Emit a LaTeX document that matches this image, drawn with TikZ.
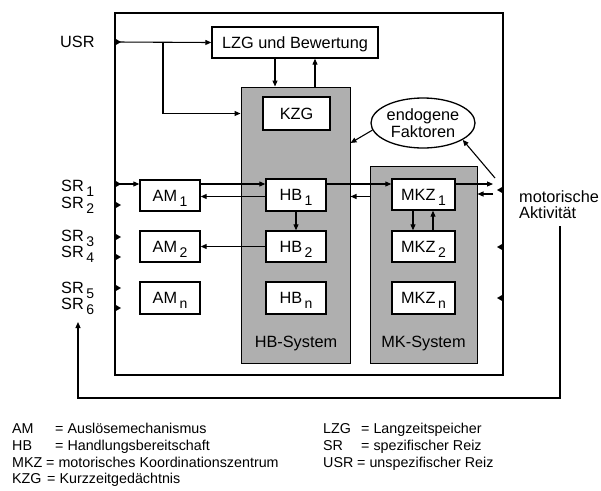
\documentclass[tikz,border=0pt]{standalone}
\usepackage{fontspec}
\setmainfont{Liberation Sans}
\usetikzlibrary{arrows.meta,shapes.geometric}
\newcommand{\sbs}[1]{\hspace{2.5pt}\smash{\raisebox{-5pt}{\fontsize{14}{14}\selectfont #1}}}
\definecolor{sysgray}{RGB}{175,175,175}
\begin{document}
\begin{tikzpicture}[x=1pt,y=-1pt,
  box/.style={draw, fill=white, line width=1.4pt, inner sep=0pt, text height=11.5pt, text depth=0pt, font=\fontsize{16.3}{16.3}\selectfont},
  sys/.style={draw, fill=sysgray, line width=1pt, inner sep=0pt},
  lbl/.style={inner sep=0pt, font=\fontsize{16.3}{16.3}\selectfont, text height=11.5pt, text depth=0pt},
  arr/.style={line width=1.1pt, -{Triangle[length=6pt,width=5pt]}},
  ln/.style={line width=1.1pt},
  leg/.style={inner sep=0pt, anchor=base west, font=\fontsize{14.3}{14.3}\selectfont}]
\useasboundingbox (0,0) rectangle (601,490);
\fill[white] (0,0) rectangle (601,490);
% outer frame
\node[draw, line width=1.4pt, minimum width=388pt, minimum height=362pt, inner sep=0pt] (outer) at (309,194) {};
% system boxes
\node[sys, minimum width=109pt, minimum height=276pt] (HBsys) at (295.5,225) {};
\node[sys, minimum width=107pt, minimum height=197pt] (MKsys) at (423.5,264.5) {};
\node[lbl] (HBlab) at (296,342) {HB-System};
\node[lbl] (MKlab) at (423.5,342) {MK-System};
% boxes
\node[box, minimum width=166pt, minimum height=31pt] (LZG) at (295,42.5) {LZG und Bewertung};
\node[box, minimum width=67pt, minimum height=33pt] (KZG) at (296.5,113.5) {KZG};
\node[box, minimum width=60pt, minimum height=32pt] (HB1) at (296,195) {HB\sbs{1}};
\node[box, minimum width=60pt, minimum height=31pt] (HB2) at (296,246.5) {HB\sbs{2}};
\node[box, minimum width=60pt, minimum height=32pt] (HBn) at (296,298) {HB\sbs{n}};
\node[box, minimum width=60pt, minimum height=31pt] (AM1) at (170,195.5) {AM\sbs{1}};
\node[box, minimum width=60pt, minimum height=31pt] (AM2) at (170,246.5) {AM\sbs{2}};
\node[box, minimum width=60pt, minimum height=32pt] (AMn) at (170,298) {AM\sbs{n}};
\node[box, minimum width=63pt, minimum height=31pt] (MKZ1) at (423.5,194.5) {MKZ\sbs{1}};
\node[box, minimum width=63pt, minimum height=31pt] (MKZ2) at (423.5,246.5) {MKZ\sbs{2}};
\node[box, minimum width=63pt, minimum height=32pt] (MKZn) at (423.5,298) {MKZ\sbs{n}};
\node[draw, fill=white, ellipse, line width=1.3pt, minimum width=104pt, minimum height=50pt, inner sep=0pt, align=center, font=\fontsize{16.3}{17}\selectfont] (endo) at (423,123) {endogene\\Faktoren};
% outside labels
\node[lbl, anchor=west] (USR) at (60,42) {USR};
\node[lbl, anchor=west] (SR1) at (61,186) {SR\sbs{1}};
\node[lbl, anchor=west] (SR2) at (61,203) {SR\sbs{2}};
\node[lbl, anchor=west] (SR3) at (61,236) {SR\sbs{3}};
\node[lbl, anchor=west] (SR4) at (61,252) {SR\sbs{4}};
\node[lbl, anchor=west] (SR5) at (61,288) {SR\sbs{5}};
\node[lbl, anchor=west] (SR6) at (61,304) {SR\sbs{6}};
\node[lbl, anchor=west] (mot1) at (519,197) {motorische};
\node[lbl, anchor=west] (mot2) at (519,213) {Aktivität};
% coordinates
\coordinate (usrL) at (115,42);
\coordinate (br) at (163,42);
\coordinate (xd) at (275,0);
\coordinate (xu) at (315,0);
\coordinate (sr1L) at (115,184);
\coordinate (ya) at (0,184);
\coordinate (yb) at (0,196.5);
\coordinate (yc) at (0,194);
\coordinate (xm) at (493,0);
\coordinate (motL) at (495,178);
\coordinate (fbtop) at (560,226);
\coordinate (fbcorner) at (560,398);
\coordinate (sr6in) at (78,322);
\coordinate (xk1) at (413,0);
\coordinate (xk2) at (433,0);
% connectors
\draw[arr] (usrL) -- (LZG.west);
\draw[arr] (br) |- (HBsys.west |- KZG.center);
\draw[arr] (LZG.south -| xd) -- (HBsys.north -| xd);
\draw[arr] (HBsys.north -| xu) -- (LZG.south -| xu);
\draw[arr] (sr1L) -- (AM1.west |- ya);
\draw[arr] (AM1.east |- ya) -- (HB1.west |- ya);
\draw[arr] (HB1.west |- yb) -- (AM1.east |- yb);
\draw[arr] (HB2.west) -- (AM2.east);
\draw[arr] (HB1.south) -- (HB2.north);
\draw[arr] (HB1.east |- ya) -- (MKZ1.west |- ya);
\draw[arr] (MKsys.west |- yb) -- (HBsys.east |- yb);
\draw[arr] (MKZ1.east |- ya) -- (xm |- ya);
\draw[arr] (xm |- yc) -- (MKsys.east |- yc);
\draw[arr] (MKZ1.south -| xk1) -- (MKZ2.north -| xk1);
\draw[arr] (MKZ2.north -| xk2) -- (MKZ1.south -| xk2);
\draw[arr] (endo.188) -- (HBsys.east |- 0,143);
\draw[arr] (motL) -- (endo.-23);
\draw[arr] (fbtop) -- (fbcorner) -| (sr6in);
% edge ticks
\foreach \y in {42,184,205,237,257,288,308}
  \fill (115,\y-3.5) -- (121,\y) -- (115,\y+3.5) -- cycle;
\foreach \y in {190,247,298}
  \fill (503,\y-3.5) -- (497,\y) -- (503,\y+3.5) -- cycle;
% legend
\node[leg] (lAM) at (12,433) {AM};
\node[leg] (lAMt) at (55,433) {= Auslösemechanismus};
\node[leg] (lHB) at (12,450) {HB};
\node[leg] (lHBt) at (55,450) {= Handlungsbereitschaft};
\node[leg] (lMKZ) at (12,467) {MKZ};
\node[leg] (lMKZt) at (46,467) {= motorisches Koordinationszentrum};
\node[leg] (lKZG) at (12,483) {KZG};
\node[leg] (lKZGt) at (47,483) {= Kurzzeitgedächtnis};
\node[leg] (lLZG) at (323,433) {LZG};
\node[leg] (lLZGt) at (361,433) {= Langzeitspeicher};
\node[leg] (lSR) at (323,450) {SR};
\node[leg] (lSRt) at (361,450) {= spezifischer Reiz};
\node[leg] (lUSR) at (323,467) {USR};
\node[leg] (lUSRt) at (357,467) {= unspezifischer Reiz};
\end{tikzpicture}
\end{document}
